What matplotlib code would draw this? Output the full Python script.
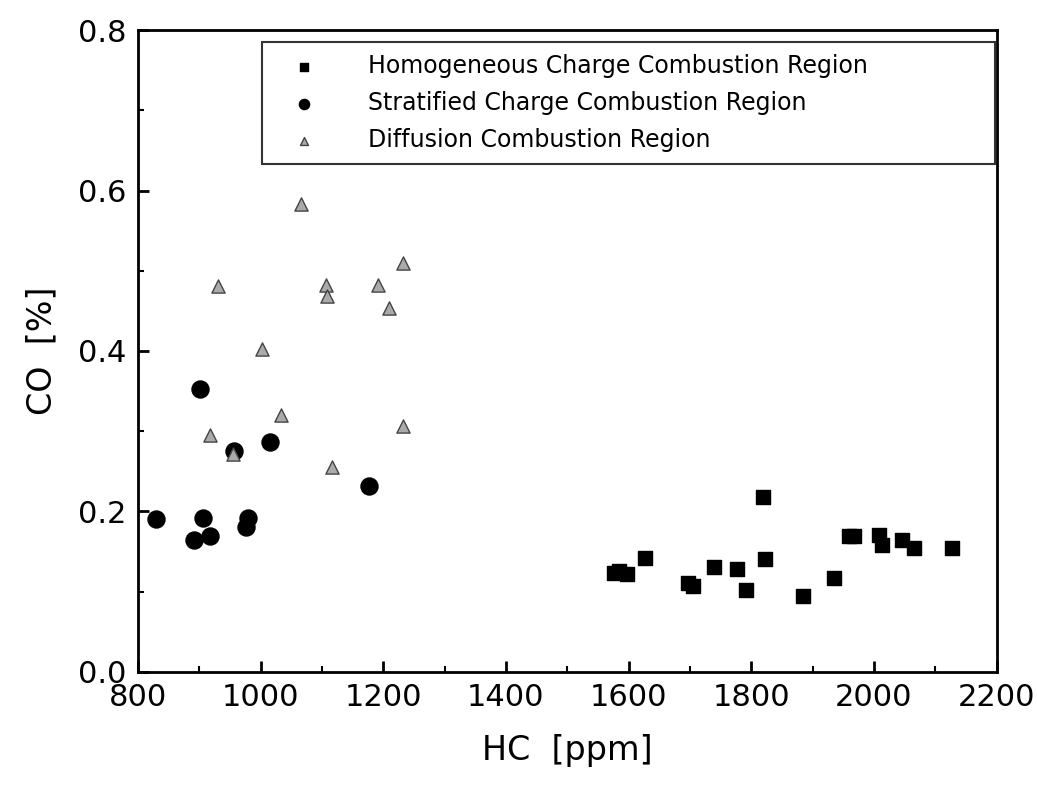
import matplotlib.pyplot as plt
from matplotlib.ticker import MultipleLocator, FormatStrFormatter

# data
homog_hc = [1576, 1584, 1597, 1626, 1697, 1705, 1739, 1776, 1791, 1819, 1822,
            1884, 1935, 1959, 1967, 2008, 2013, 2046, 2065, 2127]
homog_co = [0.123, 0.125, 0.122, 0.142, 0.111, 0.107, 0.130, 0.128, 0.102, 0.218, 0.140,
            0.094, 0.117, 0.169, 0.169, 0.171, 0.158, 0.164, 0.154, 0.154]

strat_hc = [902, 957, 1016, 1177, 829, 906, 891, 917, 980, 977]
strat_co = [0.352, 0.275, 0.286, 0.232, 0.190, 0.192, 0.164, 0.169, 0.192, 0.181]

diff_hc = [1066, 1232, 930, 1106, 1109, 1192, 1210, 1003, 1033, 917, 1233, 1117, 955]
diff_co = [0.583, 0.510, 0.481, 0.482, 0.469, 0.482, 0.453, 0.403, 0.320, 0.295, 0.307, 0.255, 0.272]

plt.rcParams['font.family'] = 'DejaVu Sans'

fig = plt.figure(figsize=(10.37, 7.94), dpi=100)
ax = fig.add_axes([0.133, 0.154, 0.828, 0.808])

ax.scatter(homog_hc, homog_co, marker='s', s=110, color='black',
           label='Homogeneous Charge Combustion Region', zorder=3)
ax.scatter(strat_hc, strat_co, marker='o', s=150, color='black',
           label='Stratified Charge Combustion Region', zorder=3)
ax.scatter(diff_hc, diff_co, marker='^', s=90, facecolor='#aaaaaa', edgecolor='#444444',
           linewidths=1, label='Diffusion Combustion Region', zorder=4)

ax.set_xlim(800, 2200)
ax.set_ylim(0.0, 0.8)
ax.xaxis.set_major_locator(MultipleLocator(200))
ax.xaxis.set_minor_locator(MultipleLocator(100))
ax.yaxis.set_major_locator(MultipleLocator(0.2))
ax.yaxis.set_minor_locator(MultipleLocator(0.1))
ax.yaxis.set_major_formatter(FormatStrFormatter('%.1f'))
ax.tick_params(which='major', direction='in', length=8, width=2, labelsize=22, pad=8)
ax.tick_params(which='minor', direction='in', length=4, width=1.5)
for sp in ax.spines.values():
    sp.set_linewidth(2)

ax.set_xlabel('HC  [ppm]', fontsize=24, labelpad=16)
ax.set_ylabel('CO  [%]', fontsize=24, labelpad=14)

leg = ax.legend(loc='upper left', bbox_to_anchor=(0.144, 0.797, 0.854, 0.184),
                mode='expand', borderaxespad=0, fontsize=17, frameon=True,
                fancybox=False, edgecolor='black', handletextpad=1.4,
                handlelength=2.6, markerscale=0.6, labelspacing=0.55, borderpad=0.5)
leg.get_frame().set_linewidth(1.5)

fig.savefig('out.png', dpi=100)
